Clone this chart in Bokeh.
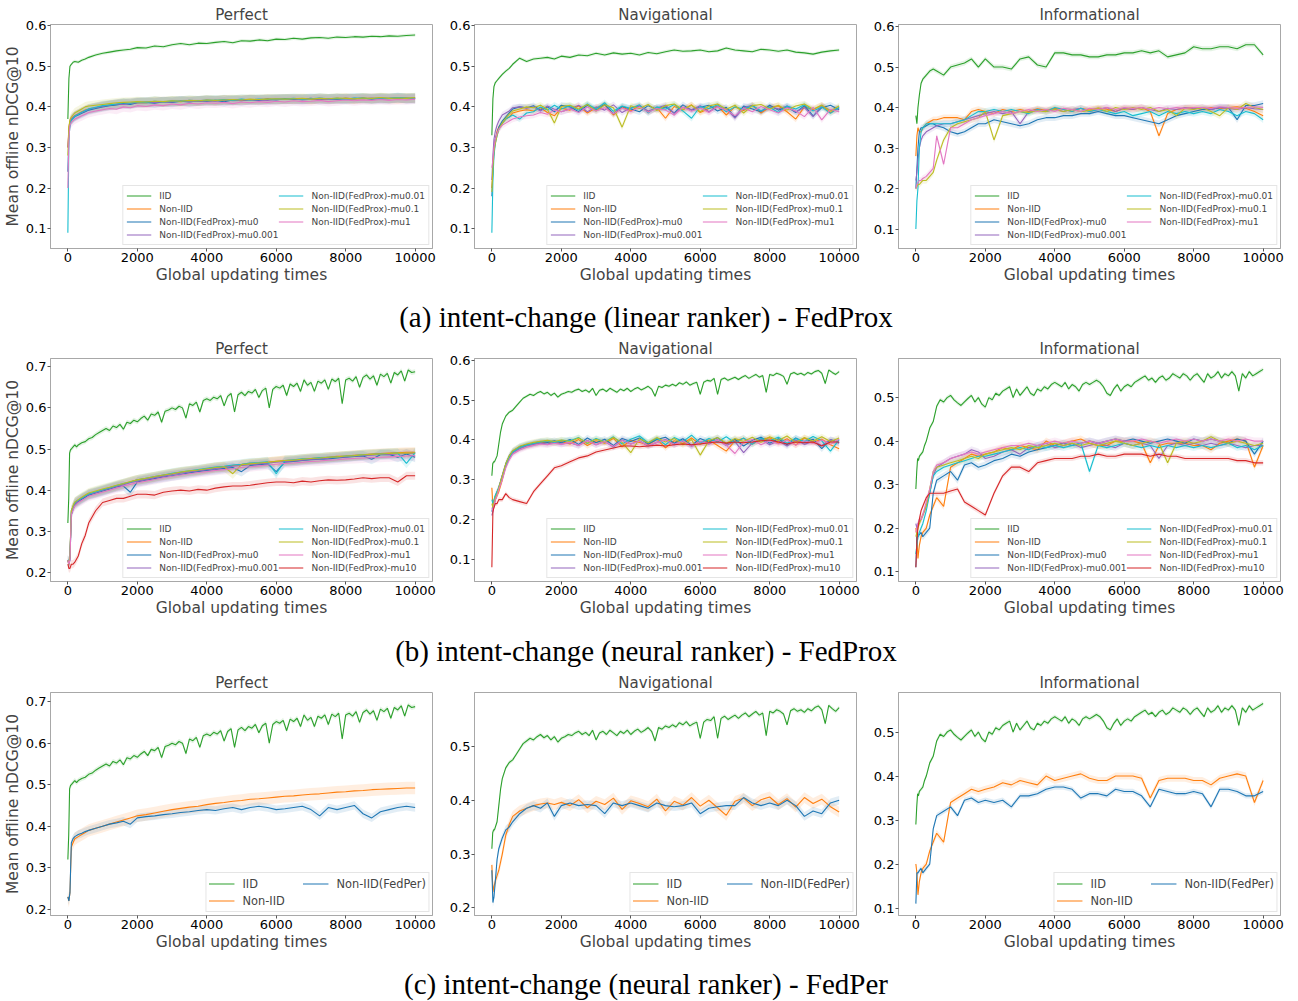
from bokeh.plotting import figure
from bokeh.layouts import column, row
from bokeh.models import (Div, FixedTicker, Legend, LegendItem, Range1d,
                          PrintfTickFormatter)
from bokeh.embed import file_html
from bokeh.resources import INLINE

# ---------------- data ----------------
X = [0, 30, 60, 100, 150, 200, 300, 400, 500, 600, 800, 1000,
     1200, 1400, 1600, 1800, 2000,
     2250, 2500, 2750, 3000, 3250, 3500, 3750, 4000,
     4250, 4500, 4750, 5000, 5250, 5500, 5750, 6000,
     6250, 6500, 6750, 7000, 7250, 7500, 7750, 8000,
     8250, 8500, 8750, 9000, 9250, 9500, 9750, 10000]

X_FINE = ([0, 25, 50, 75, 100, 150, 200, 250, 300, 400, 500, 600, 700, 800, 900, 1000]
          + list(range(1100, 10001, 100)))

X_TICKS = [0, 2000, 4000, 6000, 8000, 10000]

LABELS_A = ["IID", "Non-IID", "Non-IID(FedProx)-mu0", "Non-IID(FedProx)-mu0.001",
            "Non-IID(FedProx)-mu0.01", "Non-IID(FedProx)-mu0.1", "Non-IID(FedProx)-mu1"]
LABELS_B = LABELS_A + ["Non-IID(FedProx)-mu10"]
LABELS_C = ["IID", "Non-IID", "Non-IID(FedPer)"]

TITLES = ["Perfect", "Navigational", "Informational"]
CAPTIONS = ["(a) intent-change (linear ranker) - FedProx",
            "(b) intent-change (neural ranker) - FedProx",
            "(c) intent-change (neural ranker) - FedPer"]

# ---- (a) linear ranker, Perfect ----
A_PERF_IID = [0.370, 0.470, 0.500, 0.505, 0.510, 0.512, 0.510, 0.515, 0.518, 0.522, 0.528, 0.532,
              0.535, 0.538, 0.540, 0.542, 0.546,
              0.545, 0.550, 0.548, 0.553, 0.556, 0.553, 0.557, 0.556,
              0.559, 0.561, 0.558, 0.563, 0.562, 0.565, 0.563, 0.567,
              0.566, 0.569, 0.567, 0.570, 0.571, 0.569, 0.572, 0.571,
              0.573, 0.572, 0.574, 0.573, 0.575, 0.574, 0.576, 0.577]
A_PERF_NON = [0.300, 0.350, 0.365, 0.370, 0.375, 0.378, 0.383, 0.388, 0.392, 0.395, 0.398, 0.402,
              0.404, 0.406, 0.409, 0.408, 0.411,
              0.410, 0.413, 0.412, 0.414, 0.413, 0.415, 0.414, 0.416,
              0.415, 0.417, 0.416, 0.418, 0.417, 0.418, 0.419, 0.418,
              0.420, 0.419, 0.420, 0.418, 0.421, 0.420, 0.419, 0.421,
              0.420, 0.421, 0.420, 0.422, 0.421, 0.420, 0.422, 0.421]
A_PERF_MU0 = [0.240, 0.330, 0.360, 0.368, 0.372, 0.376, 0.380, 0.384, 0.388, 0.392, 0.396, 0.400,
              0.403, 0.405, 0.408, 0.406, 0.410,
              0.411, 0.409, 0.413, 0.411, 0.414, 0.412, 0.415, 0.414,
              0.416, 0.413, 0.417, 0.415, 0.418, 0.416, 0.419, 0.417,
              0.420, 0.418, 0.419, 0.421, 0.418, 0.420, 0.419, 0.421,
              0.420, 0.422, 0.419, 0.421, 0.420, 0.422, 0.421, 0.420]
A_PERF_MU0001 = [0.300, 0.340, 0.362, 0.370, 0.374, 0.378, 0.382, 0.386, 0.390, 0.394, 0.398, 0.401,
                 0.404, 0.407, 0.406, 0.409, 0.410,
                 0.412, 0.411, 0.413, 0.412, 0.415, 0.413, 0.414, 0.416,
                 0.414, 0.417, 0.415, 0.416, 0.418, 0.417, 0.416, 0.419,
                 0.418, 0.420, 0.417, 0.419, 0.420, 0.418, 0.421, 0.419,
                 0.421, 0.420, 0.422, 0.420, 0.421, 0.423, 0.420, 0.422]
A_PERF_MU001 = [0.090, 0.320, 0.355, 0.366, 0.372, 0.377, 0.382, 0.387, 0.391, 0.395, 0.399, 0.403,
                0.405, 0.407, 0.410, 0.409, 0.412,
                0.411, 0.414, 0.412, 0.415, 0.414, 0.416, 0.415, 0.417,
                0.416, 0.418, 0.416, 0.419, 0.417, 0.419, 0.418, 0.420,
                0.419, 0.421, 0.419, 0.420, 0.422, 0.420, 0.421, 0.419,
                0.422, 0.421, 0.420, 0.422, 0.421, 0.423, 0.421, 0.422]
A_PERF_MU01 = [0.280, 0.350, 0.368, 0.375, 0.380, 0.385, 0.390, 0.395, 0.400, 0.402, 0.404, 0.406,
               0.408, 0.410, 0.411, 0.412, 0.413,
               0.412, 0.414, 0.413, 0.415, 0.414, 0.416, 0.415, 0.417,
               0.416, 0.417, 0.418, 0.417, 0.419, 0.418, 0.419, 0.420,
               0.419, 0.420, 0.421, 0.419, 0.421, 0.420, 0.422, 0.421,
               0.420, 0.422, 0.421, 0.423, 0.421, 0.422, 0.421, 0.423]
A_PERF_MU1 = [0.200, 0.320, 0.355, 0.362, 0.366, 0.370, 0.374, 0.378, 0.382, 0.386, 0.390, 0.393,
              0.396, 0.394, 0.400, 0.398, 0.403,
              0.401, 0.405, 0.403, 0.407, 0.405, 0.409, 0.407, 0.410,
              0.409, 0.411, 0.408, 0.412, 0.410, 0.413, 0.411, 0.414,
              0.412, 0.415, 0.413, 0.414, 0.416, 0.413, 0.415, 0.417,
              0.415, 0.417, 0.416, 0.418, 0.416, 0.418, 0.417, 0.419]

# ---- (a) linear ranker, Navigational ----
A_NAV_IID = [0.330, 0.420, 0.450, 0.460, 0.465, 0.470, 0.480, 0.488, 0.495, 0.505, 0.520, 0.512,
             0.518, 0.520, 0.522, 0.518, 0.525,
             0.522, 0.528, 0.526, 0.532, 0.528, 0.533, 0.530, 0.532,
             0.528, 0.534, 0.531, 0.536, 0.540, 0.537, 0.538, 0.540,
             0.536, 0.538, 0.545, 0.540, 0.538, 0.536, 0.542, 0.540,
             0.537, 0.540, 0.535, 0.533, 0.530, 0.535, 0.538, 0.540]
A_NAV_NON = [0.200, 0.250, 0.300, 0.320, 0.340, 0.350, 0.360, 0.370, 0.375, 0.385, 0.390, 0.393,
             0.390, 0.398, 0.386, 0.378, 0.397,
             0.392, 0.402, 0.385, 0.398, 0.405, 0.380, 0.400, 0.390,
             0.403, 0.388, 0.398, 0.372, 0.401, 0.393, 0.405, 0.386,
             0.396, 0.402, 0.380, 0.400, 0.391, 0.404, 0.385, 0.399,
             0.402, 0.388, 0.370, 0.400, 0.393, 0.404, 0.386, 0.398]
A_NAV_MU0 = [0.180, 0.240, 0.290, 0.320, 0.335, 0.350, 0.365, 0.375, 0.385, 0.395, 0.400, 0.398,
             0.403, 0.392, 0.400, 0.388, 0.404,
             0.400, 0.388, 0.404, 0.392, 0.406, 0.383, 0.401, 0.395,
             0.388, 0.403, 0.394, 0.400, 0.385, 0.405, 0.392, 0.399,
             0.404, 0.390, 0.399, 0.375, 0.402, 0.395, 0.388, 0.404,
             0.392, 0.400, 0.386, 0.403, 0.378, 0.398, 0.404, 0.393]
A_NAV_MU0001 = [0.220, 0.280, 0.320, 0.340, 0.355, 0.365, 0.380, 0.385, 0.390, 0.398, 0.400, 0.397,
                0.400, 0.390, 0.402, 0.394, 0.388,
                0.395, 0.404, 0.388, 0.400, 0.392, 0.405, 0.386, 0.398,
                0.402, 0.390, 0.397, 0.404, 0.384, 0.399, 0.393, 0.403,
                0.388, 0.401, 0.395, 0.372, 0.398, 0.404, 0.389, 0.400,
                0.395, 0.402, 0.388, 0.398, 0.376, 0.403, 0.391, 0.396]
A_NAV_MU001 = [0.090, 0.220, 0.280, 0.310, 0.330, 0.345, 0.360, 0.370, 0.375, 0.380, 0.370, 0.385,
               0.388, 0.400, 0.392, 0.404, 0.395,
               0.403, 0.392, 0.407, 0.395, 0.410, 0.389, 0.402, 0.396,
               0.405, 0.385, 0.400, 0.394, 0.406, 0.390, 0.372, 0.401,
               0.396, 0.405, 0.388, 0.400, 0.394, 0.403, 0.390, 0.399,
               0.386, 0.402, 0.395, 0.405, 0.390, 0.400, 0.384, 0.399]
A_NAV_MU01 = [0.190, 0.250, 0.290, 0.310, 0.330, 0.345, 0.360, 0.372, 0.382, 0.390, 0.395, 0.400,
              0.398, 0.404, 0.394, 0.360, 0.401,
              0.404, 0.395, 0.406, 0.390, 0.405, 0.398, 0.350, 0.403,
              0.396, 0.406, 0.391, 0.403, 0.407, 0.393, 0.404, 0.388,
              0.402, 0.407, 0.394, 0.404, 0.385, 0.403, 0.406, 0.395,
              0.404, 0.392, 0.402, 0.407, 0.394, 0.404, 0.390, 0.402]
A_NAV_MU1 = [0.250, 0.270, 0.300, 0.320, 0.335, 0.345, 0.355, 0.360, 0.365, 0.370, 0.375, 0.378,
             0.380, 0.386, 0.382, 0.392, 0.388,
             0.395, 0.386, 0.400, 0.390, 0.398, 0.383, 0.397, 0.388,
             0.400, 0.387, 0.396, 0.392, 0.380, 0.399, 0.389, 0.397,
             0.386, 0.400, 0.392, 0.378, 0.397, 0.388, 0.401, 0.393,
             0.385, 0.398, 0.390, 0.376, 0.399, 0.368, 0.394, 0.388]

# ---- (a) linear ranker, Informational ----
A_INF_IID = [0.380, 0.360, 0.400, 0.430, 0.460, 0.470, 0.480, 0.490, 0.495, 0.490, 0.480, 0.500,
             0.505, 0.510, 0.520, 0.500, 0.520,
             0.500, 0.500, 0.495, 0.520, 0.525, 0.505, 0.500, 0.535,
             0.535, 0.530, 0.530, 0.525, 0.525, 0.530, 0.530, 0.535,
             0.535, 0.540, 0.535, 0.540, 0.525, 0.530, 0.535, 0.550,
             0.545, 0.545, 0.550, 0.550, 0.545, 0.555, 0.555, 0.530]
A_INF_NON = [0.280, 0.330, 0.350, 0.340, 0.340, 0.350, 0.360, 0.365, 0.370, 0.370, 0.375, 0.375,
             0.375, 0.370, 0.390, 0.395, 0.390,
             0.385, 0.395, 0.390, 0.395, 0.390, 0.397, 0.393, 0.398,
             0.395, 0.390, 0.398, 0.394, 0.399, 0.396, 0.390, 0.398,
             0.395, 0.400, 0.390, 0.330, 0.385, 0.395, 0.398, 0.400,
             0.395, 0.400, 0.397, 0.400, 0.402, 0.398, 0.390, 0.380]
A_INF_MU0 = [0.200, 0.250, 0.300, 0.340, 0.350, 0.350, 0.355, 0.360, 0.360, 0.355, 0.350, 0.340,
             0.335, 0.340, 0.350, 0.360, 0.360,
             0.370, 0.365, 0.360, 0.355, 0.360, 0.370, 0.375, 0.375,
             0.380, 0.380, 0.385, 0.385, 0.390, 0.385, 0.380, 0.380,
             0.375, 0.370, 0.365, 0.360, 0.370, 0.380, 0.385, 0.390,
             0.395, 0.395, 0.400, 0.400, 0.370, 0.405, 0.405, 0.410]
A_INF_MU0001 = [0.220, 0.240, 0.270, 0.300, 0.320, 0.330, 0.340, 0.345, 0.350, 0.355, 0.360, 0.360,
                0.365, 0.370, 0.375, 0.380, 0.385,
                0.390, 0.385, 0.390, 0.360, 0.390, 0.395, 0.390, 0.395,
                0.390, 0.395, 0.398, 0.390, 0.395, 0.400, 0.390, 0.398,
                0.395, 0.400, 0.395, 0.390, 0.398, 0.395, 0.400, 0.397,
                0.400, 0.395, 0.400, 0.398, 0.395, 0.400, 0.397, 0.395]
A_INF_MU001 = [0.100, 0.170, 0.200, 0.300, 0.340, 0.350, 0.360, 0.360, 0.360, 0.360, 0.360, 0.360,
               0.365, 0.370, 0.380, 0.390, 0.390,
               0.395, 0.390, 0.395, 0.390, 0.385, 0.395, 0.390, 0.400,
               0.395, 0.390, 0.398, 0.390, 0.395, 0.390, 0.385, 0.390,
               0.380, 0.385, 0.390, 0.380, 0.390, 0.385, 0.390, 0.385,
               0.390, 0.385, 0.395, 0.390, 0.380, 0.390, 0.385, 0.370]
A_INF_MU01 = [0.200, 0.205, 0.210, 0.210, 0.215, 0.220, 0.220, 0.230, 0.240, 0.270, 0.320, 0.350,
              0.360, 0.365, 0.370, 0.375, 0.390,
              0.320, 0.380, 0.385, 0.390, 0.388, 0.392, 0.390, 0.395,
              0.390, 0.395, 0.390, 0.393, 0.398, 0.390, 0.400, 0.395,
              0.400, 0.395, 0.400, 0.390, 0.395, 0.380, 0.398, 0.395,
              0.400, 0.390, 0.380, 0.400, 0.395, 0.410, 0.400, 0.395]
A_INF_MU1 = [0.200, 0.210, 0.215, 0.220, 0.220, 0.225, 0.230, 0.240, 0.250, 0.330, 0.260, 0.350,
             0.350, 0.360, 0.370, 0.375, 0.380,
             0.385, 0.390, 0.385, 0.390, 0.395, 0.390, 0.395, 0.390,
             0.398, 0.395, 0.390, 0.398, 0.395, 0.400, 0.395, 0.400,
             0.398, 0.400, 0.395, 0.400, 0.397, 0.400, 0.398, 0.400,
             0.400, 0.398, 0.402, 0.400, 0.398, 0.400, 0.402, 0.400]

# ---- (b)/(c) neural ranker, Perfect (IID on the fine grid) ----
B_PERF_IID = [0.320, 0.380, 0.490, 0.498, 0.500, 0.505, 0.510, 0.505, 0.510, 0.515, 0.518, 0.525,
              0.528, 0.535, 0.540, 0.545,
              0.550, 0.545, 0.556, 0.552, 0.560, 0.548, 0.565, 0.562, 0.570, 0.566,
              0.574, 0.580, 0.570, 0.585, 0.582, 0.590, 0.565, 0.592, 0.595, 0.600,
              0.596, 0.604, 0.600, 0.575, 0.610, 0.606, 0.614, 0.590, 0.618, 0.622,
              0.618, 0.626, 0.622, 0.630, 0.605, 0.628, 0.635, 0.590, 0.632, 0.638,
              0.630, 0.640, 0.636, 0.645, 0.625, 0.642, 0.648, 0.600, 0.645, 0.652,
              0.648, 0.655, 0.630, 0.658, 0.652, 0.660, 0.640, 0.668, 0.655, 0.662,
              0.640, 0.665, 0.660, 0.668, 0.645, 0.670, 0.664, 0.672, 0.610, 0.668,
              0.672, 0.665, 0.676, 0.650, 0.674, 0.680, 0.670, 0.678, 0.655, 0.682,
              0.676, 0.684, 0.660, 0.686, 0.680, 0.690, 0.665, 0.692, 0.686, 0.688]
B_PERF_NON = [0.230, 0.220, 0.240, 0.350, 0.360, 0.370, 0.375, 0.380, 0.385, 0.390, 0.395, 0.400,
              0.405, 0.410, 0.415, 0.420, 0.425,
              0.428, 0.432, 0.436, 0.440, 0.443, 0.446, 0.448, 0.452,
              0.455, 0.457, 0.460, 0.462, 0.465, 0.466, 0.468, 0.470,
              0.472, 0.473, 0.475, 0.477, 0.478, 0.480, 0.482, 0.483,
              0.485, 0.486, 0.488, 0.489, 0.490, 0.491, 0.492, 0.492]
B_PERF_MU0 = [0.230, 0.220, 0.230, 0.340, 0.355, 0.365, 0.372, 0.378, 0.383, 0.388, 0.393, 0.398,
              0.403, 0.408, 0.410, 0.395, 0.420,
              0.424, 0.428, 0.432, 0.435, 0.438, 0.442, 0.445, 0.448,
              0.450, 0.453, 0.455, 0.445, 0.460, 0.462, 0.464, 0.445,
              0.468, 0.470, 0.472, 0.474, 0.475, 0.476, 0.478, 0.480,
              0.482, 0.483, 0.475, 0.486, 0.487, 0.480, 0.488, 0.480]
B_PERF_MU0001 = [0.230, 0.220, 0.235, 0.345, 0.358, 0.368, 0.374, 0.380, 0.385, 0.390, 0.394, 0.399,
                 0.404, 0.409, 0.413, 0.418, 0.422,
                 0.426, 0.430, 0.434, 0.438, 0.441, 0.444, 0.447, 0.450,
                 0.453, 0.455, 0.458, 0.460, 0.462, 0.464, 0.466, 0.468,
                 0.470, 0.471, 0.473, 0.475, 0.476, 0.478, 0.480, 0.481,
                 0.483, 0.484, 0.485, 0.487, 0.487, 0.488, 0.489, 0.490]
B_PERF_MU001 = [0.230, 0.225, 0.240, 0.350, 0.360, 0.370, 0.376, 0.381, 0.386, 0.391, 0.396, 0.401,
                0.406, 0.411, 0.416, 0.420, 0.425,
                0.429, 0.433, 0.437, 0.441, 0.444, 0.447, 0.450, 0.453,
                0.456, 0.458, 0.461, 0.463, 0.466, 0.467, 0.469, 0.440,
                0.472, 0.474, 0.476, 0.477, 0.479, 0.480, 0.481, 0.483,
                0.484, 0.486, 0.487, 0.488, 0.489, 0.490, 0.465, 0.491]
B_PERF_MU01 = [0.230, 0.220, 0.240, 0.350, 0.362, 0.371, 0.377, 0.383, 0.388, 0.393, 0.398, 0.403,
               0.407, 0.412, 0.416, 0.421, 0.425,
               0.429, 0.433, 0.437, 0.440, 0.444, 0.447, 0.449, 0.452,
               0.455, 0.457, 0.440, 0.462, 0.464, 0.466, 0.468, 0.470,
               0.472, 0.473, 0.475, 0.477, 0.478, 0.480, 0.481, 0.483,
               0.484, 0.486, 0.487, 0.488, 0.489, 0.490, 0.490, 0.491]
B_PERF_MU1 = [0.230, 0.220, 0.230, 0.340, 0.352, 0.362, 0.370, 0.375, 0.380, 0.385, 0.390, 0.395,
              0.400, 0.405, 0.410, 0.414, 0.418,
              0.422, 0.426, 0.430, 0.434, 0.437, 0.440, 0.443, 0.445,
              0.448, 0.450, 0.452, 0.455, 0.457, 0.459, 0.461, 0.463,
              0.465, 0.466, 0.468, 0.470, 0.471, 0.473, 0.474, 0.476,
              0.477, 0.478, 0.479, 0.480, 0.481, 0.482, 0.483, 0.484]
B_PERF_MU10 = [0.220, 0.210, 0.210, 0.220, 0.220, 0.225, 0.240, 0.270, 0.290, 0.320, 0.350, 0.370,
               0.375, 0.380, 0.380, 0.385, 0.390,
               0.390, 0.388, 0.395, 0.398, 0.400, 0.398, 0.402, 0.400,
               0.405, 0.408, 0.410, 0.410, 0.412, 0.415, 0.418, 0.420,
               0.420, 0.418, 0.422, 0.420, 0.423, 0.425, 0.424, 0.425,
               0.427, 0.430, 0.428, 0.430, 0.430, 0.420, 0.435, 0.435]
C_PERF_FEDPER = [0.230, 0.220, 0.240, 0.360, 0.370, 0.375, 0.380, 0.383, 0.387, 0.390, 0.395, 0.400,
                 0.405, 0.408, 0.412, 0.405, 0.420,
                 0.423, 0.425, 0.428, 0.430, 0.433, 0.435, 0.438, 0.440,
                 0.438, 0.442, 0.445, 0.440, 0.445, 0.448, 0.445, 0.440,
                 0.442, 0.445, 0.448, 0.440, 0.425, 0.445, 0.440, 0.445,
                 0.450, 0.430, 0.420, 0.435, 0.440, 0.445, 0.448, 0.445]

# ---- (b)/(c) neural ranker, Navigational (IID on the fine grid) ----
B_NAV_IID = [0.310, 0.340, 0.345, 0.345, 0.350, 0.360, 0.390, 0.420, 0.440, 0.460, 0.470, 0.475,
             0.485, 0.495, 0.505, 0.510,
             0.515, 0.512, 0.518, 0.522, 0.516, 0.520, 0.512, 0.518, 0.508, 0.515,
             0.518, 0.522, 0.520, 0.525, 0.528, 0.522, 0.526, 0.520, 0.530, 0.512,
             0.525, 0.528, 0.522, 0.530, 0.525, 0.520, 0.528, 0.524, 0.530, 0.522,
             0.528, 0.532, 0.526, 0.530, 0.535, 0.528, 0.510, 0.535, 0.532, 0.538,
             0.535, 0.540, 0.536, 0.544, 0.540, 0.546, 0.538, 0.542, 0.545, 0.515,
             0.545, 0.550, 0.548, 0.555, 0.515, 0.552, 0.556, 0.550, 0.554, 0.558,
             0.552, 0.558, 0.562, 0.555, 0.560, 0.565, 0.558, 0.562, 0.520, 0.565,
             0.562, 0.568, 0.565, 0.560, 0.540, 0.566, 0.570, 0.565, 0.568, 0.563,
             0.570, 0.566, 0.572, 0.575, 0.568, 0.542, 0.576, 0.570, 0.565, 0.572]
B_NAV_NON = [0.280, 0.230, 0.240, 0.250, 0.260, 0.270, 0.300, 0.335, 0.355, 0.370, 0.380, 0.385,
             0.390, 0.393, 0.395, 0.392, 0.396,
             0.390, 0.401, 0.386, 0.398, 0.392, 0.404, 0.383, 0.399,
             0.394, 0.388, 0.402, 0.380, 0.398, 0.391, 0.405, 0.389,
             0.400, 0.386, 0.372, 0.398, 0.404, 0.390, 0.401, 0.406,
             0.392, 0.403, 0.387, 0.405, 0.394, 0.402, 0.388, 0.378]
B_NAV_MU0 = [0.220, 0.230, 0.245, 0.260, 0.270, 0.280, 0.310, 0.340, 0.360, 0.372, 0.383, 0.388,
             0.392, 0.396, 0.394, 0.398, 0.393,
             0.401, 0.389, 0.405, 0.393, 0.402, 0.386, 0.404, 0.396,
             0.405, 0.390, 0.401, 0.407, 0.392, 0.403, 0.386, 0.404,
             0.395, 0.406, 0.390, 0.402, 0.385, 0.399, 0.407, 0.392,
             0.403, 0.388, 0.405, 0.394, 0.402, 0.378, 0.401, 0.393]
B_NAV_MU0001 = [0.210, 0.220, 0.235, 0.250, 0.265, 0.280, 0.310, 0.335, 0.355, 0.368, 0.378, 0.385,
                0.389, 0.392, 0.390, 0.394, 0.390,
                0.393, 0.386, 0.399, 0.388, 0.397, 0.382, 0.400, 0.390,
                0.398, 0.385, 0.394, 0.401, 0.388, 0.399, 0.384, 0.396,
                0.390, 0.401, 0.386, 0.396, 0.368, 0.393, 0.402, 0.388,
                0.398, 0.385, 0.400, 0.389, 0.397, 0.386, 0.401, 0.392]
B_NAV_MU001 = [0.250, 0.240, 0.250, 0.260, 0.270, 0.280, 0.305, 0.335, 0.356, 0.370, 0.381, 0.387,
               0.391, 0.395, 0.398, 0.394, 0.399,
               0.398, 0.406, 0.391, 0.404, 0.395, 0.408, 0.390, 0.402,
               0.410, 0.393, 0.404, 0.388, 0.406, 0.396, 0.412, 0.392,
               0.404, 0.395, 0.408, 0.393, 0.405, 0.389, 0.404, 0.398,
               0.407, 0.392, 0.404, 0.396, 0.409, 0.398, 0.372, 0.401]
B_NAV_MU01 = [0.240, 0.230, 0.245, 0.255, 0.265, 0.280, 0.310, 0.340, 0.360, 0.373, 0.384, 0.390,
              0.394, 0.397, 0.399, 0.396, 0.400,
              0.396, 0.405, 0.392, 0.402, 0.395, 0.406, 0.394, 0.368,
              0.403, 0.393, 0.406, 0.395, 0.404, 0.388, 0.401, 0.362,
              0.398, 0.406, 0.392, 0.404, 0.396, 0.407, 0.394, 0.408,
              0.399, 0.410, 0.394, 0.406, 0.397, 0.408, 0.396, 0.405]
B_NAV_MU1 = [0.230, 0.220, 0.235, 0.250, 0.260, 0.275, 0.300, 0.330, 0.350, 0.364, 0.375, 0.382,
             0.386, 0.390, 0.388, 0.392, 0.389,
             0.394, 0.386, 0.398, 0.388, 0.396, 0.384, 0.399, 0.390,
             0.397, 0.386, 0.394, 0.400, 0.388, 0.398, 0.385, 0.396,
             0.391, 0.400, 0.387, 0.366, 0.395, 0.401, 0.388, 0.398,
             0.390, 0.400, 0.387, 0.398, 0.391, 0.400, 0.389, 0.402]
B_NAV_MU10 = [0.080, 0.220, 0.230, 0.240, 0.240, 0.250, 0.250, 0.265, 0.255, 0.250, 0.245, 0.240,
              0.270, 0.290, 0.310, 0.330, 0.335,
              0.345, 0.355, 0.360, 0.370, 0.375, 0.380, 0.385, 0.385,
              0.383, 0.385, 0.387, 0.385, 0.388, 0.390, 0.388, 0.390,
              0.393, 0.395, 0.392, 0.395, 0.393, 0.395, 0.398, 0.400,
              0.395, 0.390, 0.395, 0.393, 0.395, 0.385, 0.395, 0.395]
C_NAV_FEDPER = [0.270, 0.210, 0.220, 0.250, 0.290, 0.310, 0.330, 0.345, 0.350, 0.360, 0.375, 0.385,
                0.390, 0.385, 0.395, 0.370, 0.390,
                0.395, 0.390, 0.392, 0.390, 0.375, 0.395, 0.390, 0.395,
                0.390, 0.385, 0.395, 0.390, 0.388, 0.390, 0.395, 0.375,
                0.385, 0.388, 0.390, 0.390, 0.405, 0.395, 0.390, 0.395,
                0.390, 0.400, 0.390, 0.370, 0.380, 0.375, 0.395, 0.400]

# ---- (b)/(c) neural ranker, Informational (IID on the fine grid) ----
B_INF_IID = [0.290, 0.330, 0.360, 0.355, 0.365, 0.370, 0.375, 0.390, 0.400, 0.430, 0.445, 0.480,
             0.495, 0.490, 0.500, 0.505,
             0.495, 0.488, 0.482, 0.490, 0.498, 0.505, 0.490, 0.500, 0.485, 0.478,
             0.500, 0.495, 0.510, 0.505, 0.515, 0.520, 0.525, 0.500, 0.520, 0.505,
             0.515, 0.525, 0.510, 0.505, 0.520, 0.515, 0.525, 0.520, 0.530, 0.535,
             0.530, 0.525, 0.535, 0.520, 0.530, 0.525, 0.515, 0.530, 0.535, 0.530,
             0.535, 0.540, 0.535, 0.525, 0.510, 0.505, 0.520, 0.530, 0.515, 0.525,
             0.530, 0.525, 0.535, 0.540, 0.545, 0.550, 0.540, 0.545, 0.535, 0.545,
             0.550, 0.540, 0.545, 0.555, 0.550, 0.545, 0.555, 0.550, 0.540, 0.550,
             0.555, 0.545, 0.535, 0.555, 0.545, 0.550, 0.560, 0.545, 0.555, 0.550,
             0.560, 0.550, 0.515, 0.555, 0.545, 0.560, 0.550, 0.555, 0.560, 0.565]
B_INF_NON = [0.200, 0.180, 0.130, 0.160, 0.180, 0.190, 0.200, 0.230, 0.250, 0.270, 0.250, 0.340,
             0.350, 0.360, 0.370, 0.365, 0.370,
             0.375, 0.385, 0.380, 0.390, 0.385, 0.380, 0.400, 0.390,
             0.395, 0.400, 0.405, 0.395, 0.390, 0.390, 0.400, 0.400,
             0.400, 0.395, 0.350, 0.390, 0.395, 0.395, 0.395, 0.390,
             0.390, 0.380, 0.395, 0.400, 0.405, 0.400, 0.340, 0.390]
B_INF_MU0 = [0.110, 0.180, 0.180, 0.185, 0.190, 0.180, 0.190, 0.200, 0.280, 0.310, 0.320, 0.330,
             0.310, 0.345, 0.350, 0.340, 0.345,
             0.355, 0.360, 0.370, 0.365, 0.375, 0.380, 0.385, 0.390,
             0.395, 0.390, 0.395, 0.400, 0.395, 0.400, 0.405, 0.400,
             0.405, 0.400, 0.395, 0.400, 0.405, 0.400, 0.395, 0.405,
             0.400, 0.405, 0.400, 0.395, 0.405, 0.400, 0.370, 0.400]
B_INF_MU0001 = [0.210, 0.200, 0.210, 0.215, 0.220, 0.230, 0.250, 0.280, 0.320, 0.340, 0.350, 0.360,
                0.365, 0.370, 0.380, 0.375, 0.360,
                0.365, 0.375, 0.380, 0.370, 0.385, 0.390, 0.395, 0.385,
                0.390, 0.395, 0.385, 0.390, 0.395, 0.390, 0.385, 0.395,
                0.390, 0.395, 0.390, 0.360, 0.390, 0.395, 0.390, 0.395,
                0.390, 0.395, 0.390, 0.395, 0.390, 0.385, 0.390, 0.390]
B_INF_MU001 = [0.140, 0.160, 0.180, 0.190, 0.200, 0.210, 0.240, 0.280, 0.320, 0.330, 0.340, 0.345,
               0.350, 0.355, 0.360, 0.365, 0.365,
               0.370, 0.375, 0.380, 0.385, 0.380, 0.390, 0.385, 0.390,
               0.385, 0.390, 0.395, 0.330, 0.390, 0.385, 0.390, 0.395,
               0.390, 0.385, 0.390, 0.385, 0.390, 0.385, 0.390, 0.385,
               0.390, 0.385, 0.390, 0.395, 0.385, 0.390, 0.380, 0.390]
B_INF_MU01 = [0.180, 0.190, 0.200, 0.210, 0.220, 0.230, 0.250, 0.290, 0.330, 0.340, 0.345, 0.350,
              0.355, 0.360, 0.365, 0.360, 0.370,
              0.375, 0.380, 0.385, 0.380, 0.390, 0.385, 0.390, 0.395,
              0.390, 0.395, 0.390, 0.395, 0.390, 0.395, 0.400, 0.395,
              0.390, 0.395, 0.400, 0.395, 0.350, 0.395, 0.400, 0.395,
              0.400, 0.410, 0.400, 0.395, 0.400, 0.395, 0.390, 0.395]
B_INF_MU1 = [0.190, 0.200, 0.210, 0.220, 0.220, 0.230, 0.260, 0.290, 0.330, 0.345, 0.350, 0.360,
             0.365, 0.370, 0.375, 0.370, 0.375,
             0.380, 0.385, 0.390, 0.390, 0.395, 0.390, 0.395, 0.400,
             0.395, 0.400, 0.395, 0.400, 0.395, 0.400, 0.405, 0.400,
             0.400, 0.405, 0.400, 0.395, 0.400, 0.405, 0.400, 0.405,
             0.400, 0.405, 0.400, 0.405, 0.400, 0.405, 0.400, 0.400]
B_INF_MU10 = [0.110, 0.170, 0.200, 0.220, 0.240, 0.250, 0.270, 0.280, 0.280, 0.280, 0.280, 0.285,
              0.290, 0.260, 0.250, 0.240, 0.230,
              0.280, 0.320, 0.340, 0.340, 0.330, 0.350, 0.355, 0.360,
              0.360, 0.360, 0.365, 0.365, 0.370, 0.365, 0.365, 0.370,
              0.370, 0.370, 0.365, 0.370, 0.365, 0.365, 0.360, 0.360,
              0.360, 0.360, 0.360, 0.360, 0.355, 0.355, 0.350, 0.350]
C_INF_FEDPER = [0.110, 0.180, 0.180, 0.185, 0.190, 0.180, 0.190, 0.200, 0.280, 0.310, 0.320, 0.330,
                0.310, 0.345, 0.350, 0.340, 0.345,
                0.340, 0.345, 0.330, 0.355, 0.355, 0.360, 0.370, 0.375,
                0.375, 0.370, 0.350, 0.360, 0.360, 0.355, 0.370, 0.365,
                0.365, 0.355, 0.330, 0.370, 0.365, 0.360, 0.360, 0.365,
                0.360, 0.330, 0.370, 0.370, 0.365, 0.355, 0.355, 0.365]

# spread (std) of each series, per panel
STD_A_PERF = [0.004, 0.012, 0.012, 0.012, 0.012, 0.012, 0.012]
STD_A_NAV = [0.004, 0.008, 0.008, 0.008, 0.008, 0.008, 0.008]
STD_A_INF = [0.006, 0.008, 0.008, 0.008, 0.008, 0.008, 0.008]
STD_B_PERF = [0.006, 0.012, 0.012, 0.012, 0.012, 0.012, 0.012, 0.010]
STD_B_NAV = [0.004, 0.008, 0.008, 0.008, 0.008, 0.008, 0.008, 0.006]
STD_B_INF = [0.005, 0.008, 0.008, 0.008, 0.008, 0.008, 0.008, 0.006]
STD_C_PERF = [0.006, 0.015, 0.010]
STD_C_NAV = [0.004, 0.010, 0.008]
STD_C_INF = [0.005, 0.008, 0.006]

# y ranges and ticks
YR_A = [(0.051, 0.603), (0.051, 0.603), (0.052, 0.605)]
YR_B = [(0.178, 0.720), (0.044, 0.605), (0.077, 0.590)]
YR_C = [(0.185, 0.722), (0.186, 0.600), (0.083, 0.590)]
YT_A = [[0.1, 0.2, 0.3, 0.4, 0.5, 0.6]] * 3
YT_B = [[0.2, 0.3, 0.4, 0.5, 0.6, 0.7], [0.1, 0.2, 0.3, 0.4, 0.5, 0.6], [0.1, 0.2, 0.3, 0.4, 0.5]]
YT_C = [[0.2, 0.3, 0.4, 0.5, 0.6, 0.7], [0.2, 0.3, 0.4, 0.5], [0.1, 0.2, 0.3, 0.4, 0.5]]

# ---------------- style ----------------
COL_A = ["#2ca02c", "#ff7f0e", "#1f77b4", "#9467bd", "#17becf", "#bcbd22", "#e377c2"]
COL_B = COL_A + ["#d62728"]
COL_C = ["#2ca02c", "#ff7f0e", "#1f77b4"]
FONT = "DejaVu Sans"
GRAY = "#a8a8a8"
WIDTHS = [446, 424, 422]
BORDERS = [(49, 14), (27, 14), (27, 12)]


def make_panel(k, title, series, xs, labels, colors, stds, yr, yt, big_legend, top):
    bl, br = BORDERS[k]
    p = figure(width=WIDTHS[k], height=top + 224 + 40, output_backend="svg", toolbar_location=None,
               x_range=Range1d(-500, 10500), y_range=Range1d(*yr),
               min_border_left=bl, min_border_right=br, min_border_top=top, min_border_bottom=40)
    p.title.text = title
    p.title.align = "center"
    p.title.text_font = FONT
    p.title.text_font_size = "15px"
    p.title.text_font_style = "normal"
    p.title.standoff = 1
    p.title.offset = 0
    p.xgrid.visible = False
    p.ygrid.visible = False
    p.outline_line_color = GRAY
    p.background_fill_color = "white"
    p.border_fill_color = "white"
    for ax in (p.xaxis[0], p.yaxis[0]):
        ax.axis_line_color = GRAY
        ax.major_tick_line_color = "#555555"
        ax.minor_tick_line_color = None
        ax.major_tick_out = 3
        ax.major_tick_in = 0
        ax.major_label_standoff = 1
        ax.major_label_text_font = FONT
        ax.major_label_text_font_size = "13px"
        ax.major_label_text_color = "black"
        ax.axis_label_text_font = FONT
        ax.axis_label_text_font_size = "15.5px"
        ax.axis_label_text_font_style = "normal"
        ax.axis_label_standoff = 1
    p.xaxis.ticker = FixedTicker(ticks=X_TICKS)
    p.xaxis.formatter = PrintfTickFormatter(format="%d")
    p.yaxis.ticker = FixedTicker(ticks=yt)
    p.yaxis.formatter = PrintfTickFormatter(format="%.1f")
    p.xaxis.axis_label = "Global updating times"
    if k == 0:
        p.yaxis.axis_label = "Mean offline nDCG@10"

    for xv, vals, c, s in zip(xs, series, colors, stds):
        p.varea(x=xv, y1=[v - s for v in vals], y2=[v + s for v in vals],
                fill_color=c, fill_alpha=0.13)
    items = []
    for xv, vals, c, lab in zip(xs, series, colors, labels):
        r = p.line(xv, vals, line_color=c, line_width=1.1)
        items.append(LegendItem(label=lab, renderers=[r]))

    leg = Legend(items=items, location="bottom_right", ncols=2, orientation="vertical")
    leg.label_text_font = FONT
    leg.border_line_color = "#cccccc"
    leg.background_fill_alpha = 0.85
    leg.margin = 3
    leg.spacing = 0
    if big_legend:
        leg.label_text_font_size = "11.4px"
        leg.glyph_width = 26
        leg.glyph_height = 17
        leg.label_height = 17
        leg.label_width = 60
        leg.label_standoff = 8
        leg.padding = 2
    else:
        leg.label_text_font_size = "9px"
        leg.glyph_width = 25
        leg.glyph_height = 13
        leg.label_height = 13
        leg.label_standoff = 8
        leg.padding = 3
    p.add_layout(leg)
    return p


def caption(text, h, lh):
    html = ('<div style="width:1292px;text-align:center;font-family:\'Liberation Serif\',serif;'
            'font-size:29px;color:black;line-height:%dpx;white-space:nowrap;">%s</div>' % (lh, text))
    return Div(text=html, width=1292, height=h, margin=0)


A_SERIES = [[A_PERF_IID, A_PERF_NON, A_PERF_MU0, A_PERF_MU0001, A_PERF_MU001, A_PERF_MU01, A_PERF_MU1],
            [A_NAV_IID, A_NAV_NON, A_NAV_MU0, A_NAV_MU0001, A_NAV_MU001, A_NAV_MU01, A_NAV_MU1],
            [A_INF_IID, A_INF_NON, A_INF_MU0, A_INF_MU0001, A_INF_MU001, A_INF_MU01, A_INF_MU1]]
B_SERIES = [[B_PERF_IID, B_PERF_NON, B_PERF_MU0, B_PERF_MU0001, B_PERF_MU001, B_PERF_MU01, B_PERF_MU1, B_PERF_MU10],
            [B_NAV_IID, B_NAV_NON, B_NAV_MU0, B_NAV_MU0001, B_NAV_MU001, B_NAV_MU01, B_NAV_MU1, B_NAV_MU10],
            [B_INF_IID, B_INF_NON, B_INF_MU0, B_INF_MU0001, B_INF_MU001, B_INF_MU01, B_INF_MU1, B_INF_MU10]]
C_SERIES = [[B_PERF_IID, B_PERF_NON, C_PERF_FEDPER],
            [B_NAV_IID, B_NAV_NON, C_NAV_FEDPER],
            [B_INF_IID, B_INF_NON, C_INF_FEDPER]]
XS_A = [X] * 7
XS_B = [X_FINE] + [X] * 7
XS_C = [X_FINE, X, X]

for group, xs in ((A_SERIES, XS_A), (B_SERIES, XS_B), (C_SERIES, XS_C)):
    for ser in group:
        for s, xv in zip(ser, xs):
            assert len(s) == len(xv), (len(s), len(xv))

stdsA = [STD_A_PERF, STD_A_NAV, STD_A_INF]
stdsB = [STD_B_PERF, STD_B_NAV, STD_B_INF]
stdsC = [STD_C_PERF, STD_C_NAV, STD_C_INF]
rowA = row(*[make_panel(k, TITLES[k], A_SERIES[k], XS_A, LABELS_A, COL_A, stdsA[k], YR_A[k], YT_A[k], False, 24)
             for k in range(3)], spacing=0)
rowB = row(*[make_panel(k, TITLES[k], B_SERIES[k], XS_B, LABELS_B, COL_B, stdsB[k], YR_B[k], YT_B[k], False, 20)
             for k in range(3)], spacing=0)
rowC = row(*[make_panel(k, TITLES[k], C_SERIES[k], XS_C, LABELS_C, COL_C, stdsC[k], YR_C[k], YT_C[k], True, 20)
             for k in range(3)], spacing=0)

layout = column(rowA, caption(CAPTIONS[0], 49, 58),
                rowB, caption(CAPTIONS[1], 50, 60),
                rowC, caption(CAPTIONS[2], 45, 58), spacing=0)

open("out.html", "w").write(file_html(layout, INLINE, title="intent-change"))
